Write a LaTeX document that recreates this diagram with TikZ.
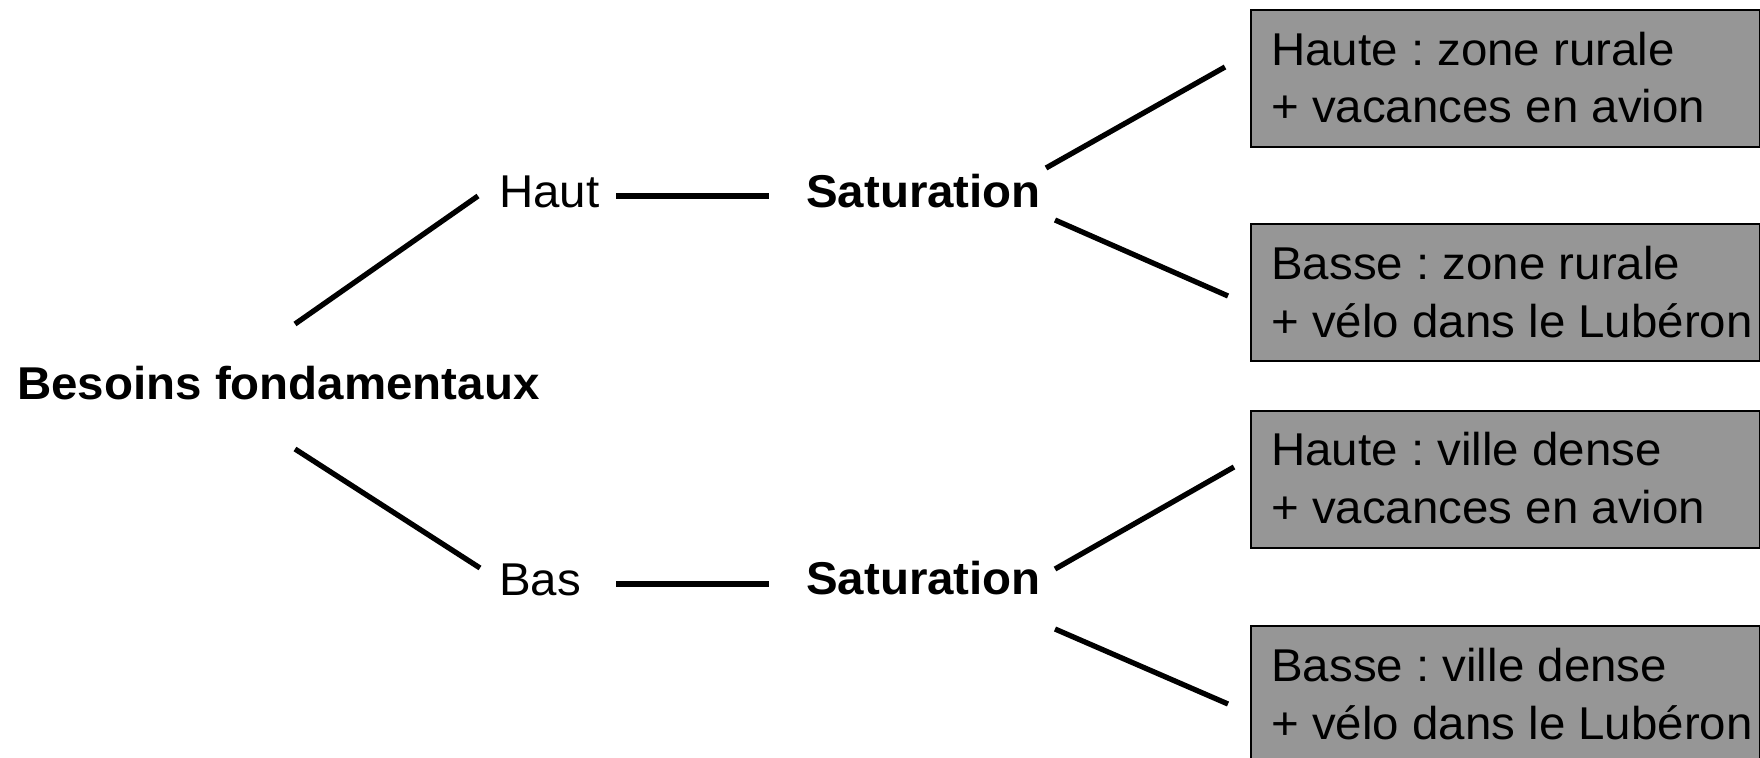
\documentclass[tikz,border=0pt]{standalone}
\usepackage{fontspec}
\setmainfont{Liberation Sans}[FakeStretch=1.032]
\definecolor{boxgray}{RGB}{150,150,150}
\frenchspacing
\begin{document}
\frenchspacing
\begin{tikzpicture}[x=1pt,y=-1pt,
  lbl/.style={inner sep=0pt, anchor=base west, font=\fontsize{46}{58}\selectfont},
  boldlbl/.style={lbl, font=\fontsize{46}{58}\selectfont\bfseries},
  box/.style={draw=black, line width=2.2pt, fill=boxgray, anchor=north west,
    minimum width=509pt, minimum height=137pt, inner sep=0pt},
  boxtext/.style={inner sep=0pt, anchor=base west, align=left,
    font=\fontsize{46}{58}\selectfont},
  conn/.style={line width=5.3pt}]
\useasboundingbox (0,0) rectangle (1760,757);

\node[boldlbl] (bes) at (17,399) {Besoins fondamentaux};
\node[lbl] (haut) at (499,207) {Haut};
\node[lbl] (bas) at (499,595) {Bas};
\node[boldlbl] (sat1) at (806,207) {Saturation};
\node[boldlbl] (sat2) at (806,594) {Saturation};

\node[box] (b1) at (1250,9) {};
\node[box] (b2) at (1250,223) {};
\node[box] (b3) at (1250,410) {};
\node[box] (b4) at (1250,625) {};

\node[boxtext] (t1) at (1271,123) {Haute : zone rurale\\+ vacances en avion};
\node[boxtext] (t2) at (1271,337) {Basse : zone rurale\\+ vélo dans le Lubéron};
\node[boxtext] (t3) at (1271,523) {Haute : ville dense\\+ vacances en avion};
\node[boxtext] (t4) at (1271,739) {Basse : ville dense\\+ vélo dans le Lubéron};

\coordinate (c1a) at (295,324); \coordinate (c1b) at (478,196);
\coordinate (c2a) at (295,449); \coordinate (c2b) at (480,568);
\coordinate (c3a) at (616,196); \coordinate (c3b) at (769,196);
\coordinate (c4a) at (616,584); \coordinate (c4b) at (769,584);
\coordinate (c5a) at (1046,168); \coordinate (c5b) at (1225,67);
\coordinate (c6a) at (1055,220); \coordinate (c6b) at (1228,296);
\coordinate (c7a) at (1055,569); \coordinate (c7b) at (1234,467);
\coordinate (c8a) at (1055,629); \coordinate (c8b) at (1228,704);

\draw[conn] (c1a) -- (c1b);
\draw[conn] (c2a) -- (c2b);
\draw[conn] (c3a) -- (c3b);
\draw[conn] (c4a) -- (c4b);
\draw[conn] (c5a) -- (c5b);
\draw[conn] (c6a) -- (c6b);
\draw[conn] (c7a) -- (c7b);
\draw[conn] (c8a) -- (c8b);
\end{tikzpicture}
\end{document}
